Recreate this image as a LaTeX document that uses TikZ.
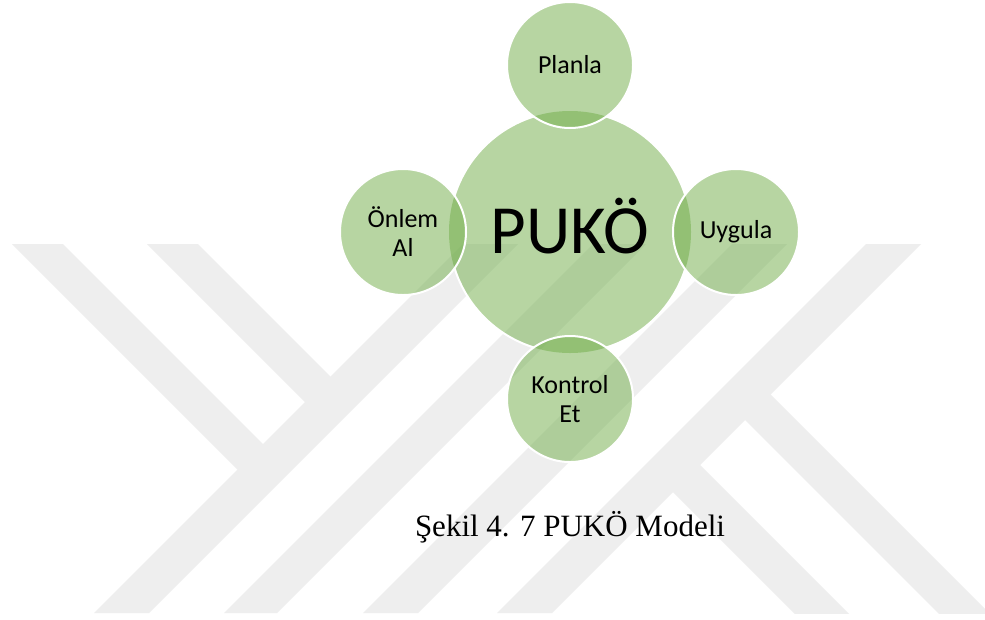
\documentclass[tikz,border=0pt]{standalone}
\usepackage{fontspec}
\setmainfont{Carlito}
\newfontfamily\capfont{Liberation Serif}
\definecolor{wm}{HTML}{EEEEEE}
\definecolor{pgreen}{HTML}{70AD47}
\begin{document}
\begin{tikzpicture}[x=1pt,y=-1pt,
  wmark/.style={fill=wm, draw=none},
  bubble/.style={circle, inner sep=0pt, fill=pgreen, fill opacity=0.5, text opacity=1, text=black},
  ring/.style={draw=white, line width=2pt},
  satlabel/.style={font=\fontsize{26}{29}\selectfont, align=center}]

\fill[white] (0,0) rectangle (985,619);
\useasboundingbox (0,0) rectangle (985,619);

% watermark
\begin{scope}
\clip (0,244) rectangle (985,613);
\fill[wmark] (94,613) -- (149,613) -- (518,244) -- (463,244) -- cycle;
\fill[wmark] (224,613) -- (277,613) -- (646,244) -- (593,244) -- cycle;
\fill[wmark] (363,613) -- (418,613) -- (787,244) -- (732,244) -- cycle;
\fill[wmark] (497,613) -- (552,613) -- (921,244) -- (866,244) -- cycle;
\fill[wmark] (12,244) -- (63,244) -- (277,458) -- (251.5,483.5) -- cycle;
\fill[wmark] (147,244) -- (198,244) -- (344.5,390.5) -- (319,416) -- cycle;
\fill[wmark] (756.5,380.5) -- (1000,624) -- (1000,675) -- (731,406) -- cycle;
\fill[wmark] (686,451) -- (855,620) -- (801,620) -- (659,478) -- cycle;
\end{scope}

% central circle
\node[bubble, minimum size=242pt] (puko) at (570,232) {\fontsize{69}{69}\selectfont\raisebox{-21pt}[0pt][0pt]{PUKÖ}};
\draw[ring] (puko.center) ++(17.4:121) arc[start angle=17.4, end angle=72.6, radius=121];
\draw[ring] (puko.center) ++(107.4:121) arc[start angle=107.4, end angle=162.6, radius=121];
\draw[ring] (puko.center) ++(197.4:121) arc[start angle=197.4, end angle=252.6, radius=121];
\draw[ring] (puko.center) ++(287.4:121) arc[start angle=287.4, end angle=342.6, radius=121];

% satellites
\node[bubble, ring, minimum size=126pt, satlabel] (plan) at (570,65) {Planla};
\node[bubble, ring, minimum size=126pt, satlabel] (uyg) at (736,232) {Uygula};
\node[bubble, ring, minimum size=126pt, satlabel] (kon) at (570,399) {Kontrol\\Et};
\node[bubble, ring, minimum size=126pt, satlabel] (onl) at (403,232) {Önlem\\Al};

% caption
\node[font=\capfont\fontsize{31}{31}\selectfont, anchor=base, inner sep=0pt] (cap) at (570,536) {Şekil 4. 7 PUKÖ Modeli};
\end{tikzpicture}
\end{document}
